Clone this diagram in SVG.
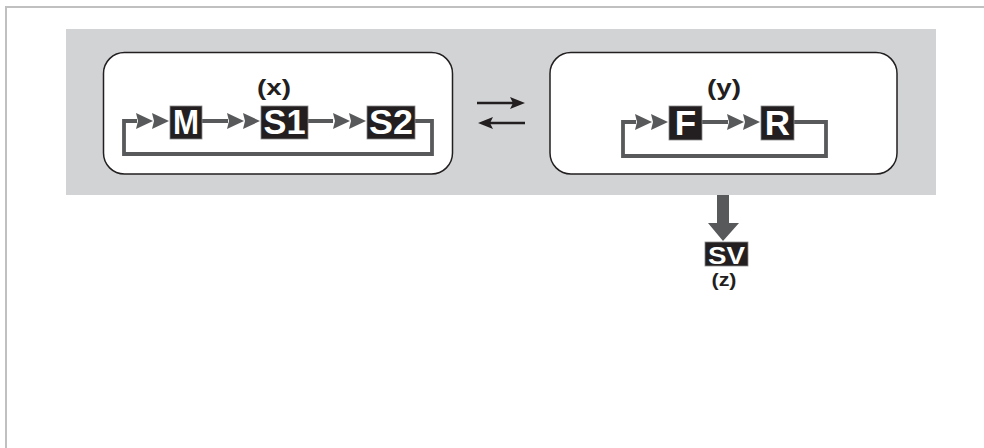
<svg xmlns="http://www.w3.org/2000/svg" width="984" height="448" viewBox="0 0 984 448">
<style>
.panel{fill:#ffffff;stroke:#231f20;stroke-width:1.5}
.box{fill:#231f20;stroke:#8a8a8a;stroke-width:0.8}
.blab{font-family:"Liberation Sans",Arial,sans-serif;font-weight:bold;font-size:35px;fill:#ffffff;text-anchor:middle}
.plab{font-family:"Liberation Sans",Arial,sans-serif;font-weight:bold;font-size:22px;fill:#231f20;text-anchor:middle}
.flow{fill:none;stroke:#58595b;stroke-width:3.8}
.eq{fill:none;stroke:#231f20;stroke-width:2.5}
</style>
<defs>
<path id="chev" d="M0,-8 L17,0 L0,8 L2,0 Z M16,-8 L33,0 L16,8 L18,0 Z" fill="#58595b"/>
</defs>
<path d="M6,448 V7 H984" fill="none" stroke="#c0c0c0" stroke-width="2"/>
<rect x="66" y="29" width="870" height="166" fill="#d1d3d4"/>
<g id="panel-x">
<rect class="panel" x="103.5" y="52.5" width="349" height="121.5" rx="21"/>
<text class="plab" x="274" y="95" textLength="34" lengthAdjust="spacingAndGlyphs">(x)</text>
</g>
<g id="panel-y">
<rect class="panel" x="550" y="52.5" width="347" height="121.5" rx="21"/>
<text class="plab" x="724" y="95" textLength="34" lengthAdjust="spacingAndGlyphs">(y)</text>
</g>
<g id="connectors">
<path class="flow" d="M202,121 H228 M308,121 H333 M415,121 H432 V154 H124 V121 H137"/>
<use href="#chev" x="136" y="121"/>
<use href="#chev" x="227" y="121"/>
<use href="#chev" x="333" y="121"/>
<path class="flow" d="M702,122 H728 M794,122 H826 V156 H623 V122 H636"/>
<use href="#chev" x="635" y="122"/>
<use href="#chev" x="727" y="122"/>
<path class="eq" d="M477,103 H514"/>
<path d="M525,103 L510,97 L513,103 L510,109 Z" fill="#231f20"/>
<path class="eq" d="M489,123 H525"/>
<path d="M478,123 L493,117 L490,123 L493,129 Z" fill="#231f20"/>
<path d="M717,195 H729 V223 H739 L723,241 L708,223 H717 Z" fill="#58595b"/>
</g>
<g id="M">
<rect class="box" x="170" y="106" width="32" height="33"/>
<text class="blab" x="186" y="134" textLength="26" lengthAdjust="spacingAndGlyphs">M</text>
</g>
<g id="S1">
<rect class="box" x="261" y="106" width="47" height="33"/>
<text class="blab" x="284.5" y="134" textLength="42" lengthAdjust="spacingAndGlyphs">S1</text>
</g>
<g id="S2">
<rect class="box" x="367" y="106" width="48" height="33"/>
<text class="blab" x="391" y="134" textLength="44" lengthAdjust="spacingAndGlyphs">S2</text>
</g>
<g id="F">
<rect class="box" x="669" y="106" width="33" height="34"/>
<text class="blab" x="685.5" y="135">F</text>
</g>
<g id="R">
<rect class="box" x="761" y="106" width="33" height="34"/>
<text class="blab" x="777.5" y="135">R</text>
</g>
<g id="SV">
<rect class="box" x="705" y="242" width="43" height="24"/>
<text class="blab" x="726.5" y="263.5" style="font-size:24px" textLength="37" lengthAdjust="spacingAndGlyphs">SV</text>
</g>
<g id="z-label">
<text class="plab" x="724" y="286" style="font-size:19px" textLength="25" lengthAdjust="spacingAndGlyphs">(z)</text>
</g>
</svg>
